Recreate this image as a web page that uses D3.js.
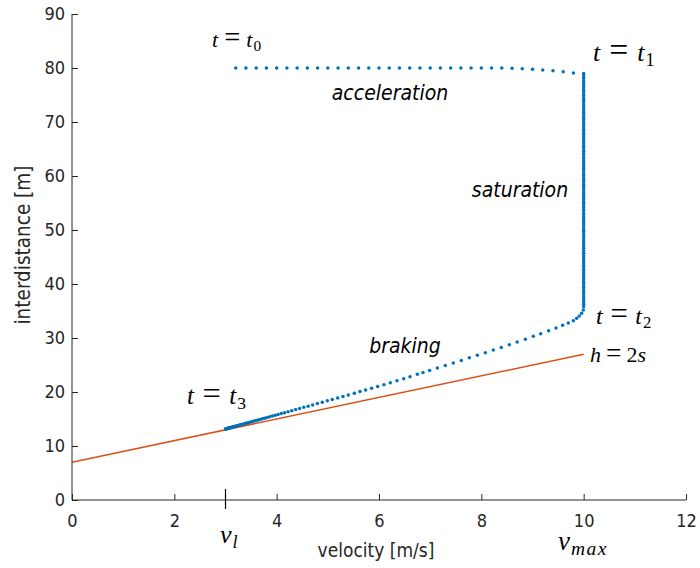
<!DOCTYPE html>
<html>
<head>
<meta charset="utf-8">
<script src="https://cdn.jsdelivr.net/npm/d3@7"></script>
<style>
  html, body { margin: 0; padding: 0; background: #fff; }
  svg { display: block; }
  .tick-label { font-family: "DejaVu Sans", sans-serif; font-stretch: condensed; font-size: 18px; fill: #262626; }
  .axis-title { font-family: "DejaVu Sans", sans-serif; font-stretch: condensed; fill: #262626; }
  .phase { font-family: "DejaVu Sans", sans-serif; font-stretch: condensed; font-style: italic; font-size: 21px; fill: #000; }
  .math { font-family: "Liberation Serif", "DejaVu Serif", serif; fill: #000; }
</style>
</head>
<body>
<svg id="chart" width="700" height="568"></svg>
<script>
// ---------------- data ----------------
const xTicks = [0, 2, 4, 6, 8, 10, 12];
const yTicks = [0, 10, 20, 30, 40, 50, 60, 70, 80, 90];

// acceleration phase (t0 -> t1)
const accelV = [3.2, 3.4, 3.6, 3.8, 4.0, 4.2, 4.4, 4.6, 4.8, 5.0, 5.2, 5.4, 5.6, 5.8, 6.0, 6.2, 6.4, 6.6, 6.8, 7.0, 7.2, 7.4, 7.6, 7.8, 8.0, 8.2, 8.4, 8.6, 8.8, 9.0, 9.2, 9.4, 9.6, 9.8];
const accelH = [80, 80, 80, 80, 80, 80, 80, 80, 80, 80, 80, 80, 80, 80, 80, 80, 80, 80, 80, 80, 80, 80, 80, 80, 80, 80, 79.98, 79.95, 79.87, 79.77, 79.63, 79.47, 79.29, 79.08];

// saturation phase (t1 -> t2), velocity held at v_max
const satV = 10;
const satH = [79.00, 78.55, 78.10, 77.65, 77.20, 76.75, 76.30, 75.85, 75.40, 74.95,
  74.50, 74.05, 73.60, 73.15, 72.70, 72.25, 71.80, 71.35, 70.90, 70.45,
  70.00, 69.55, 69.10, 68.65, 68.20, 67.75, 67.30, 66.85, 66.40, 65.95,
  65.50, 65.05, 64.60, 64.15, 63.70, 63.25, 62.80, 62.35, 61.90, 61.45,
  61.00, 60.55, 60.10, 59.65, 59.20, 58.75, 58.30, 57.85, 57.40, 56.95,
  56.50, 56.05, 55.60, 55.15, 54.70, 54.25, 53.80, 53.35, 52.90, 52.45,
  52.00, 51.55, 51.10, 50.65, 50.20, 49.75, 49.30, 48.85, 48.40, 47.95,
  47.50, 47.05, 46.60, 46.15, 45.70, 45.25, 44.80, 44.35, 43.90, 43.45,
  43.00, 42.55, 42.10, 41.65, 41.20, 40.75, 40.30, 39.85, 39.40, 38.95,
  38.50, 38.05, 37.60, 37.15, 36.70, 36.25, 35.80];

// braking phase (t2 -> t3)
const brakeV = [9.993, 9.96, 9.915, 9.863, 9.798, 9.70, 9.589, 9.459, 9.315, 9.16,
  9.016, 8.86, 8.70, 8.547, 8.39, 8.234, 8.078, 7.921, 7.765, 7.609,
  7.452, 7.296, 7.14, 6.99, 6.86, 6.749, 6.606, 6.482, 6.351, 6.221,
  6.097, 5.974, 5.856, 5.739, 5.628, 5.518, 5.40, 5.296, 5.192, 5.087,
  4.99, 4.892, 4.795, 4.703, 4.615, 4.53, 4.448, 4.37, 4.295, 4.223,
  4.155, 4.09, 4.028, 3.97, 3.915, 3.862, 3.812, 3.765, 3.72, 3.677,
  3.636, 3.597, 3.56, 3.525, 3.492, 3.46, 3.43, 3.40, 3.372, 3.345,
  3.32, 3.296, 3.273, 3.251, 3.23, 3.21, 3.191, 3.173, 3.156, 3.14,
  3.125, 3.111, 3.098, 3.086, 3.075, 3.064, 3.054, 3.045, 3.037, 3.03,
  3.023, 3.017, 3.012, 3.008, 3.004, 3.0];
const brakeH = [35.19, 34.57, 34.07, 33.64, 33.21, 32.78, 32.35, 31.85, 31.36, 30.80,
  30.31, 29.79, 29.26, 28.76, 28.26, 27.77, 27.28, 26.79, 26.32, 25.85,
  25.37, 24.91, 24.45, 24.00, 23.60, 23.28, 22.83, 22.46, 22.08, 21.71,
  21.36, 21.02, 20.69, 20.37, 20.07, 19.78, 19.46, 19.18, 18.90, 18.62,
  18.37, 18.11, 17.86, 17.61, 17.38, 17.16, 16.94, 16.74, 16.54, 16.35,
  16.18, 16.01, 15.84, 15.69, 15.55, 15.41, 15.28, 15.15, 15.04, 14.92,
  14.82, 14.71, 14.62, 14.53, 14.44, 14.36, 14.28, 14.20, 14.13, 14.05,
  13.99, 13.93, 13.87, 13.81, 13.75, 13.70, 13.65, 13.60, 13.56, 13.52,
  13.48, 13.44, 13.41, 13.38, 13.35, 13.32, 13.29, 13.27, 13.25, 13.23,
  13.21, 13.19, 13.18, 13.17, 13.16, 13.15];

// safety line h = 2s (endpoints)
const safeV = [0, 10];
const safeH = [7, 27];

const vLeader = 3;

// ---------------- drawing ----------------
const svg = d3.select("#chart");
const x = d3.scaleLinear().domain([0, 12]).range([72, 686]);
const y = d3.scaleLinear().domain([0, 90]).range([500, 14]);
const axisColor = "#262626";

// safety line
svg.append("path")
  .datum(safeV.map((v, i) => [v, safeH[i]]))
  .attr("fill", "none")
  .attr("stroke", "#D95319")
  .attr("stroke-width", 1.5)
  .attr("d", d3.line().x(d => x(d[0])).y(d => y(d[1])));

// trajectory points
const pts = [];
accelV.forEach((v, i) => pts.push([v, accelH[i]]));
satH.forEach(h => pts.push([satV, h]));
brakeV.forEach((v, i) => pts.push([v, brakeH[i]]));

svg.append("g").selectAll("circle")
  .data(pts)
  .join("circle")
  .attr("cx", d => x(d[0]))
  .attr("cy", d => y(d[1]))
  .attr("r", 1.75)
  .attr("fill", "#0072BD");

// axes
const gx = svg.append("g").attr("transform", "translate(0,500)")
  .call(d3.axisBottom(x).tickValues(xTicks).tickSize(-6).tickPadding(14).tickFormat(d3.format("d")));
const gy = svg.append("g").attr("transform", "translate(72,0)")
  .call(d3.axisLeft(y).tickValues(yTicks).tickSize(-6).tickPadding(7).tickFormat(d3.format("d")));
[gx, gy].forEach(g => {
  g.select(".domain").attr("stroke", axisColor).attr("stroke-width", 1);
  g.selectAll(".tick line").attr("stroke", axisColor).attr("stroke-width", 1);
  g.selectAll(".tick text").attr("class", "tick-label").attr("font-size", null).attr("font-family", null).attr("fill", null);
});
gx.select(".domain").attr("d", `M${x(0)},0H${x(12)}`);
gy.select(".domain").attr("d", `M0,${y(0)}V${y(90)}`);

// leader velocity marker tick
svg.append("line")
  .attr("x1", x(vLeader)).attr("x2", x(vLeader))
  .attr("y1", 489).attr("y2", 509)
  .attr("stroke", "#000").attr("stroke-width", 1.2);

// axis titles
svg.append("text").attr("class", "axis-title")
  .attr("text-anchor", "middle").attr("font-size", 19)
  .attr("x", 376).attr("y", 557)
  .text("velocity [m/s]");
svg.append("text").attr("class", "axis-title")
  .attr("text-anchor", "middle").attr("font-size", 20.5)
  .attr("transform", "translate(30,245) rotate(-90)")
  .text("interdistance [m]");

// phase labels
svg.append("text").attr("class", "phase").attr("text-anchor", "middle")
  .attr("x", 390).attr("y", 100).text("acceleration");
svg.append("text").attr("class", "phase").attr("text-anchor", "middle")
  .attr("x", 520).attr("y", 197).text("saturation");
svg.append("text").attr("class", "phase").attr("text-anchor", "middle")
  .attr("x", 405).attr("y", 353).text("braking");

// math labels
function mathLabel(xp, yp, size, parts) {
  const t = svg.append("text").attr("class", "math")
    .attr("x", xp).attr("y", yp).attr("font-size", size);
  parts.forEach(p => {
    const s = t.append("tspan").text(p.text);
    if (p.italic) s.attr("font-style", "italic");
    if (p.sub) s.attr("font-size", size * (p.subScale || 0.7)).attr("baseline-shift", "-25%");
    if (p.big) s.attr("font-size", size * p.big);
    if (p.dx) s.attr("dx", p.dx);
    if (p.ls) s.attr("letter-spacing", p.ls);
  });
  return t;
}
const tEq = (sub, gap) => [
  { text: "t", italic: true },
  { text: "=", dx: gap, big: 1.3 },
  { text: "t", italic: true, dx: gap },
  { text: sub, sub: true, dx: 1 }
];
mathLabel(212, 47, 22, tEq("0", 6));
mathLabel(593, 61, 26, tEq("1", 9));
mathLabel(596, 324, 24, tEq("2", 7.5));
mathLabel(187, 404, 25, tEq("3", 8.5));
mathLabel(590, 362, 22, [
  { text: "h", italic: true }, { text: "=", dx: 5, big: 1.25 }, { text: "2", dx: 5 }, { text: "s", italic: true }
]);
mathLabel(220, 543, 26, [{ text: "v", italic: true }, { text: "l", italic: true, sub: true, dx: 1 }]);
mathLabel(558, 550, 27, [{ text: "v", italic: true }, { text: "max", italic: true, sub: true, subScale: 0.72, ls: 1.5, dx: 1 }]);
</script>
</body>
</html>
